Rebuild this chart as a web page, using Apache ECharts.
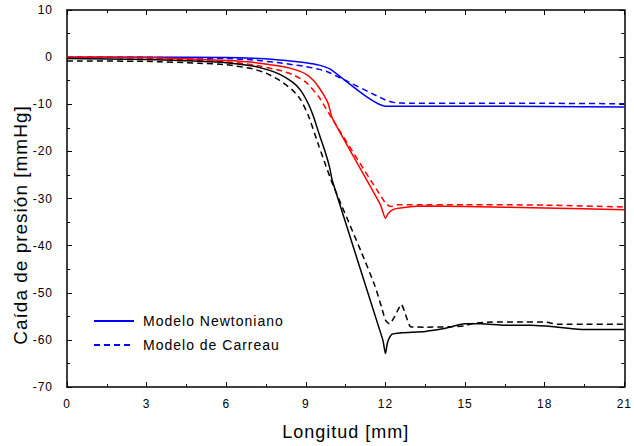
<!DOCTYPE html>
<html>
<head>
<meta charset="utf-8">
<script src="https://cdn.jsdelivr.net/npm/echarts@6/dist/echarts.min.js"></script>
<style>
html,body{margin:0;padding:0;background:#fff;}
#chart{width:634px;height:446px;letter-spacing:1px;}
</style>
</head>
<body>
<div id="chart"></div>
<script>
// ---- Data (x in mm, y in mmHg) ----
const xTicks = [0, 3, 6, 9, 12, 15, 18, 21];
const yTicks = [-70, -60, -50, -40, -30, -20, -10, 0, 10];
const legendNames = ['Modelo Newtoniano', 'Modelo de Carreau'];

const blueNewton = [[0,0],[3,0],[6,-0.1],[7,-0.25],[8,-0.6],[8.5,-0.85],[9,-1.2],[9.5,-1.7],[9.9,-2.5],[12,-10.4],[12.5,-10.4],[15,-10.4],[18,-10.5],[21,-10.6]];
const blueCarreau = [[0,0],[3,-0.05],[6,-0.3],[7,-0.6],[8,-1.2],[8.5,-1.6],[9,-2.0],[9.5,-2.6],[9.85,-3.2],[12,-9.1],[12.3,-9.6],[12.6,-9.75],[13,-9.8],[15,-9.8],[18,-9.8],[21,-9.9]];

const redNewton = [[0,0],[3,-0.1],[6,-0.7],[7,-1.1],[8,-1.9],[8.5,-2.5],[9,-3.6],[9.3,-5.0],[9.5,-6.5],[9.7,-8.3],[9.85,-10.0],[10.0,-13.0],[11.8,-31.2],[12,-34.2],[12.1,-33.2],[12.3,-32.3],[12.7,-31.9],[13.5,-31.6],[15,-31.7],[18,-32.0],[21,-32.4]];
const redCarreau = [[0,0],[3,-0.2],[6,-1.0],[7,-1.6],[8,-2.8],[8.5,-3.7],[9,-5.3],[9.5,-8.5],[9.86,-11.9],[12,-31.0],[12.2,-31.7],[12.5,-31.3],[13,-31.3],[15,-31.3],[18,-31.4],[21,-31.8]];

const blackNewton = [[0,-0.3],[3,-0.5],[5,-0.9],[6,-1.2],[7,-1.9],[7.5,-2.6],[8,-3.6],[8.5,-5.3],[8.8,-7.0],[9.1,-10.0],[9.3,-12.8],[9.5,-16.3],[9.75,-20.5],[9.9,-23.5],[10.0,-26.3],[11.9,-60.0],[12.0,-62.9],[12.08,-60.5],[12.25,-58.8],[12.6,-58.5],[13.5,-58.2],[14.2,-57.6],[15,-56.6],[15.6,-56.6],[16.5,-56.9],[17.5,-56.9],[18.5,-57.3],[19.5,-57.8],[21,-57.8]];
const blackCarreau = [[0,-0.8],[3,-0.9],[5,-1.3],[6,-1.6],[7,-2.5],[7.5,-3.4],[8,-4.9],[8.5,-7.0],[8.8,-9.0],[9.1,-12.5],[9.5,-19.0],[9.75,-23.0],[10.0,-26.8],[11.1,-41.5],[11.6,-48.5],[11.85,-53.0],[12.0,-55.8],[12.15,-56.6],[12.35,-55.0],[12.6,-52.5],[12.75,-54.5],[12.95,-57.2],[13.5,-57.3],[14.5,-57.2],[15.0,-57.0],[15.3,-56.5],[16,-56.2],[17,-56.2],[18,-56.2],[18.5,-56.7],[19,-56.7],[21,-56.7]];

const FONT = '"Liberation Sans", Arial, sans-serif';
const chart = echarts.init(document.getElementById('chart'), null, {renderer: 'svg'});

function mkSeries(name, data, color, dashed) {
  return {
    name: name, type: 'line', data: data, xAxisIndex: 0, yAxisIndex: 0,
    symbol: 'none', smooth: 0.2, animation: false,
    lineStyle: {color: color, width: 1.5, type: dashed ? [6, 4] : 'solid'},
    itemStyle: {color: color}
  };
}

const axisCommonX = {
  type: 'value', min: xTicks[0], max: xTicks[xTicks.length - 1], interval: 3,
  axisLine: {show: true, onZero: false, lineStyle: {color: '#000', width: 1.5}},
  axisTick: {show: true, inside: true, length: 5, lineStyle: {color: '#000', width: 1}},
  minorTick: {show: true, splitNumber: 2, length: 3, lineStyle: {color: '#000', width: 1}},
  splitLine: {show: false}
};
const axisCommonY = {
  type: 'value', min: yTicks[0], max: yTicks[yTicks.length - 1], interval: 10,
  axisLine: {show: true, onZero: false, lineStyle: {color: '#000', width: 1.5}},
  axisTick: {show: true, inside: true, length: 5, lineStyle: {color: '#000', width: 1}},
  minorTick: {show: true, splitNumber: 2, length: 3, lineStyle: {color: '#000', width: 1}},
  splitLine: {show: false}
};

chart.setOption({
  animation: false,
  backgroundColor: '#fff',
  grid: {left: 67, right: 7, top: 10, bottom: 59, containLabel: false},
  xAxis: [
    Object.assign({}, axisCommonX, {
      position: 'bottom',
      name: 'Longitud [mm]', nameLocation: 'middle', nameGap: 36,
      nameTextStyle: {fontFamily: FONT, fontSize: 18, color: '#000'},
      axisLabel: {show: true, margin: 11, fontFamily: FONT, fontSize: 12, color: '#000'}
    }),
    Object.assign({}, axisCommonX, {position: 'top', axisLabel: {show: false}})
  ],
  yAxis: [
    Object.assign({}, axisCommonY, {
      position: 'left',
      axisLabel: {show: true, margin: 14, fontFamily: FONT, fontSize: 12, color: '#000'}
    }),
    Object.assign({}, axisCommonY, {position: 'right', axisLabel: {show: false}})
  ],
  legend: {
    data: legendNames, orient: 'vertical', left: 93, top: 314, padding: 0,
    itemWidth: 40, itemHeight: 14, itemGap: 10,
    itemStyle: {opacity: 0},
    textStyle: {fontFamily: FONT, fontSize: 14, color: '#000', padding: [0, 0, 0, 4]},
    selectedMode: false
  },
  graphic: [{
    type: 'text', x: 20, y: 225, rotation: Math.PI / 2,
    style: {text: 'Caída de presión [mmHg]', font: '19px ' + FONT, fill: '#000', textAlign: 'center', textVerticalAlign: 'middle'}
  }],
  series: [
    mkSeries('Modelo Newtoniano', blueNewton, '#0000ff', false),
    mkSeries('Modelo de Carreau', blueCarreau, '#0000ff', true),
    mkSeries('Newtoniano (rojo)', redNewton, '#ff0000', false),
    mkSeries('Carreau (rojo)', redCarreau, '#ff0000', true),
    mkSeries('Newtoniano (negro)', blackNewton, '#000000', false),
    mkSeries('Carreau (negro)', blackCarreau, '#000000', true)
  ]
});
</script>
</body>
</html>
